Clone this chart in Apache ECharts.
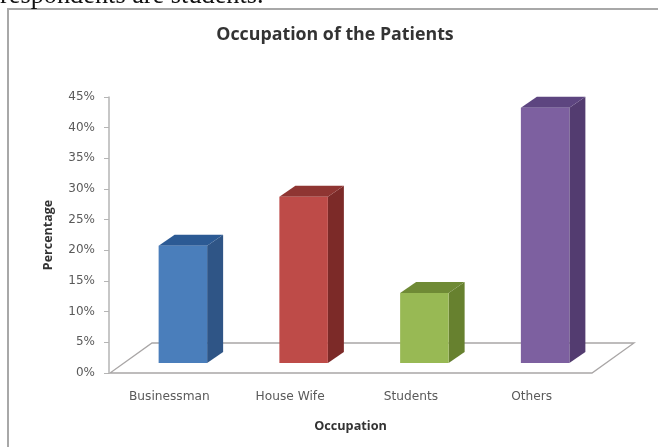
<!DOCTYPE html>
<html>
<head>
<meta charset="utf-8">
<style>html,body{margin:0;padding:0;background:#fff;overflow:hidden}#c{width:658px;height:447px}</style>
<script src="https://cdn.jsdelivr.net/npm/echarts@6/dist/echarts.min.js"></script>
</head>
<body>
<div id="c"></div>
<script>
const categories = ['Businessman', 'House Wife', 'Students', 'Others'];
const percentages = [19.1, 27.1, 11.4, 41.6];
const frontColors = ['#4a7ebb', '#be4b48', '#98b954', '#7d60a0'];
const sideColors = ['#2f5586', '#7c2a28', '#67812f', '#533c70'];
const topColors = ['#2c5a94', '#8f3532', '#6f8a35', '#5d4580'];
const yTicks = { min: 0, max: 45, interval: 5 };

const FLOOR_DX = 42, FLOOR_DY = 30;
const PLANE_DX = 13.5, PLANE_DY = 10;
const BAR_W = 48.5, BAR_DX = 16, BAR_DY = 11;
const LABEL = '"DejaVu Sans"';
const BOLD = '"Open Sans"';

function renderFloor(params, api) {
  const g = params.coordSys;
  const x0 = g.x + 1, x1 = g.x + g.width, y = g.y + g.height;
  return {
    type: 'polygon',
    shape: { points: [[x0, y], [x1, y], [x1 + FLOOR_DX, y - FLOOR_DY], [x0 + FLOOR_DX, y - FLOOR_DY]] },
    style: { fill: '#fff', stroke: '#a9a6a6', lineWidth: 1.3 }
  };
}

function renderBar(params, api) {
  const i = api.value(0);
  const base = api.coord([i, 0]);
  const top = api.coord([i, api.value(1)]);
  const l = base[0] + PLANE_DX - BAR_W / 2, r = l + BAR_W;
  const b = base[1] - PLANE_DY, t = top[1] - PLANE_DY;
  return {
    type: 'group',
    children: [
      { type: 'polygon', shape: { points: [[r, b], [r + BAR_DX, b - BAR_DY], [r + BAR_DX, t - BAR_DY], [r, t]] },
        style: { fill: sideColors[i] } },
      { type: 'polygon', shape: { points: [[l, t], [r, t], [r + BAR_DX, t - BAR_DY], [l + BAR_DX, t - BAR_DY]] },
        style: { fill: topColors[i] } },
      { type: 'rect', shape: { x: l, y: t, width: BAR_W, height: b - t },
        style: { fill: frontColors[i] } }
    ]
  };
}

const chart = echarts.init(document.getElementById('c'), null, { renderer: 'canvas' });
chart.setOption({
  animation: false,
  backgroundColor: '#fff',
  graphic: [
    { type: 'rect', z: -1, shape: { x: 8, y: 9, width: 720, height: 520 },
      style: { fill: '#fff', stroke: '#a8a8a8', lineWidth: 2 } },
    { type: 'text', z: 5, x: 0, y: 9, style: { text: 'respondents are students.', fill: '#111',
      font: '26.3px "Liberation Serif"', verticalAlign: 'bottom' } }
  ],
  title: {
    text: 'Occupation of the Patients', left: 330, top: 21, textAlign: 'center',
    textStyle: { fontFamily: BOLD, fontWeight: 'bold', fontSize: 17.8, color: '#333' }
  },
  grid: { left: 109, right: 66, top: 97, bottom: 74 },
  xAxis: {
    type: 'category', data: categories,
    name: 'Occupation', nameLocation: 'middle', nameGap: 47,
    nameTextStyle: { fontFamily: BOLD, fontWeight: 'bold', fontSize: 12.7, color: '#333' },
    axisLine: { show: false },
    axisTick: { show: false },
    axisLabel: { fontFamily: LABEL, fontSize: 12.2, color: '#5a5a5a', margin: 18 }
  },
  yAxis: {
    type: 'value', min: yTicks.min, max: yTicks.max, interval: yTicks.interval,
    name: 'Percentage', nameLocation: 'middle', nameGap: 54,
    nameTextStyle: { fontFamily: BOLD, fontWeight: 'bold', fontSize: 12.5, color: '#333' },
    axisLine: { show: true, lineStyle: { color: '#b5b5b5', width: 1.5 } },
    axisTick: { show: true, length: 5, lineStyle: { color: '#b5b5b5' } },
    axisLabel: { fontFamily: LABEL, fontSize: 12, color: '#5a5a5a', margin: 14, formatter: '{value}%' },
    splitLine: { show: false }
  },
  series: [
    { type: 'custom', name: 'Floor', data: [[0, 0]], renderItem: renderFloor, silent: true, z: 1, encode: { x: 0, y: 1 } },
    { type: 'custom', name: 'Percentage', data: percentages.map((v, i) => [i, v]), renderItem: renderBar, z: 2, encode: { x: 0, y: 1 } }
  ]
});
</script>
</body>
</html>
